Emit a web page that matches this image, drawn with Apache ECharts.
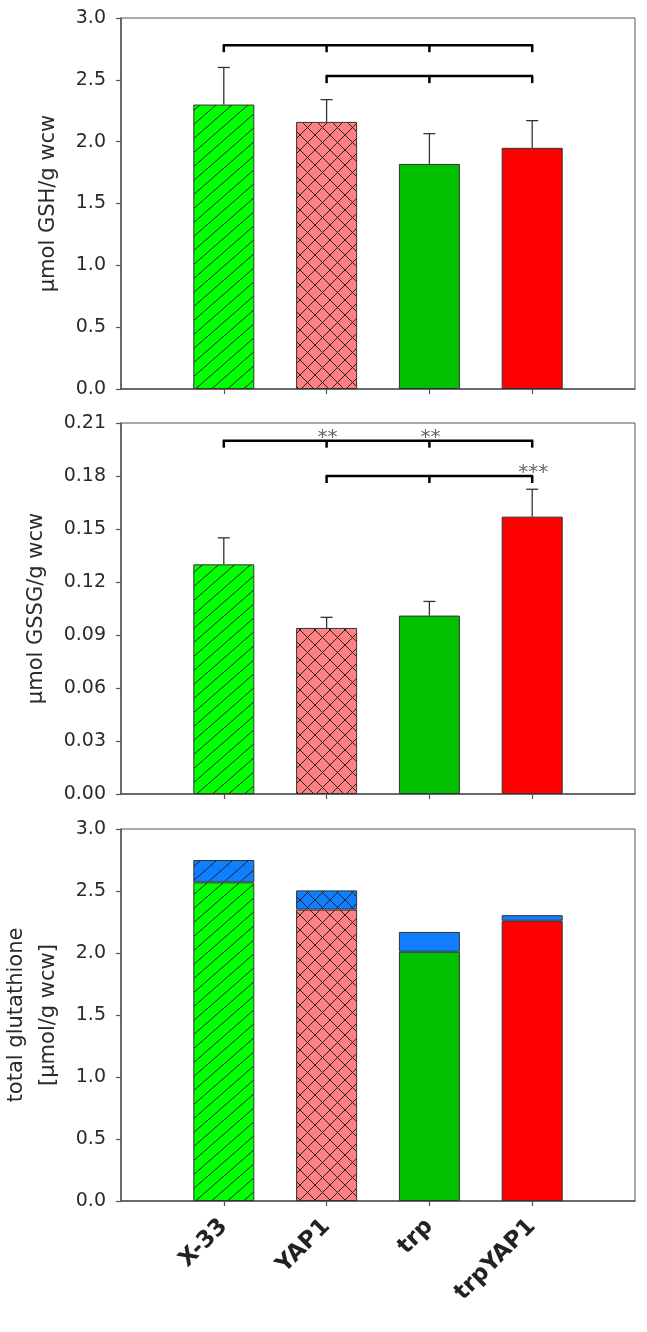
<!DOCTYPE html>
<html><head><meta charset="utf-8">
<script src="https://cdn.jsdelivr.net/npm/echarts@6/dist/echarts.min.js"></script>
<style>html,body{margin:0;padding:0;background:#fff}#c{width:647px;height:1332px}</style>
</head><body><div id="c"></div>
<script>
// ---- data ----
const categories = ['X-33', 'YAP1', 'trp', 'trpYAP1'];
const gshMean = [2.30, 2.16, 1.82, 1.95];
const gshErr = [0.30, 0.18, 0.245, 0.22];
const gssgMean = [0.130, 0.094, 0.101, 0.157];
const gssgErr = [0.015, 0.006, 0.008, 0.0155];
const totalGSH = [2.57, 2.35, 2.01, 2.26];
const totalGSSG = [0.18, 0.155, 0.16, 0.045];
// brackets: [from category (1-based), to category, y]
const gshBrackets = [[1, 4, 2.78], [2, 4, 2.53]];
const gssgBrackets = [[1, 4, 0.20], [2, 4, 0.18]];
const gssgStarPos = [[2, 0.20], [3, 0.20], [4, 0.18]];
const gssgStarText = ['**', '**', '***'];
const gshTicks = { min: 0, max: 3.0, step: 0.5 };
const gssgTicks = { min: 0, max: 0.21, step: 0.03 };
const totalTicks = { min: 0, max: 3.0, step: 0.5 };

// ---- styles ----
const fills = ['#00ff00', '#ff8080', '#00c000', '#ff0000'];
const hatches = ['/', 'x', '', ''];
const blue = '#0f7fff';
const FONT = 'DejaVu Sans';

function pattern(bg, kind) {
  if (!kind) return bg;
  const W = kind === 'x' ? 15 : 16, H = kind === 'x' ? 15 : 14;
  const c = document.createElement('canvas');
  c.width = W; c.height = H;
  const g = c.getContext('2d');
  g.fillStyle = bg; g.fillRect(0, 0, W, H);
  g.strokeStyle = '#222'; g.lineWidth = 1;
  g.beginPath();
  for (let o = -1; o <= 1; o++) {
    g.moveTo(o * W, H); g.lineTo(o * W + W, 0);
  }
  if (kind === 'x') {
    for (let o = -1; o <= 1; o++) {
      g.moveTo(o * W, 0); g.lineTo(o * W + W, H);
    }
  }
  g.stroke();
  return { image: c, repeat: 'repeat' };
}

const padded = arr => [null, ...arr, null];
const xData = ['', ...categories, ''];

const grids = [
  { left: 121, top: 18, width: 514, height: 371 },
  { left: 121, top: 423, width: 514, height: 371 },
  { left: 121, top: 829, width: 514, height: 372 }
].map(g => Object.assign(g, { show: true, borderColor: '#555', borderWidth: 1, backgroundColor: 'transparent', containLabel: false, outerBoundsMode: 'none' }));

function xAxis(i, showLabels) {
  return {
    type: 'category', gridIndex: i, data: xData, boundaryGap: false,
    axisLine: { lineStyle: { color: '#555', width: 1.5 } },
    axisTick: { show: true, length: 5, interval: (idx) => idx >= 1 && idx <= 4, lineStyle: { color: '#555', width: 1.2 } },
    axisLabel: showLabels ? {
      show: true, interval: 0, rotate: 45, margin: 22,
      fontFamily: FONT, fontWeight: 'bold', fontSize: 23, color: '#222'
    } : { show: false },
    splitLine: { show: false }
  };
}

function yAxis(i, t, dec, name, gap) {
  return {
    type: 'value', gridIndex: i, min: t.min, max: t.max, interval: t.step,
    axisLine: { show: true, lineStyle: { color: '#555', width: 1.5 } },
    axisTick: { show: true, length: 5, lineStyle: { color: '#555', width: 1.2 } },
    axisLabel: { margin: 15, fontFamily: FONT, fontSize: 19, color: '#2a2a2a', formatter: v => v.toFixed(dec) },
    splitLine: { show: false },
    name: name, nameLocation: 'middle', nameGap: gap, nameRotate: 90,
    nameTextStyle: { fontFamily: FONT, fontSize: 21, color: '#2a2a2a', lineHeight: 32 }
  };
}

function barSeries(i, values, stack) {
  return {
    type: 'bar', xAxisIndex: i, yAxisIndex: i, barWidth: 61, stack: stack,
    data: padded(values.map((v, k) => ({
      value: v,
      itemStyle: { color: pattern(fills[k], hatches[k]), borderColor: '#333', borderWidth: 1 }
    }))),
    z: 2, silent: true
  };
}

function errSeries(i, means, errs) {
  return {
    type: 'custom', xAxisIndex: i, yAxisIndex: i, z: 3, silent: true,
    data: means.map((m, k) => [k + 1, m, errs[k]]),
    encode: { x: 0, y: 1 },
    renderItem: (params, api) => {
      const x = api.value(0), m = api.value(1), e = api.value(2);
      const p0 = api.coord([x, m]), p1 = api.coord([x, m + e]);
      const st = { stroke: '#333', lineWidth: 1.3 };
      return { type: 'group', children: [
        { type: 'line', shape: { x1: p0[0], y1: p0[1], x2: p1[0], y2: p1[1] }, style: st },
        { type: 'line', shape: { x1: p1[0] - 6, y1: p1[1], x2: p1[0] + 6, y2: p1[1] }, style: st }
      ]};
    }
  };
}

function bracketSeries(i, brackets) {
  return {
    type: 'custom', xAxisIndex: i, yAxisIndex: i, z: 4, silent: true,
    data: brackets,
    encode: { x: [0, 1], y: 2 },
    renderItem: (params, api) => {
      const a = api.value(0), b = api.value(1), y = api.value(2);
      const pa = api.coord([a, y]), pb = api.coord([b, y]);
      const st = { stroke: '#000', lineWidth: 2.5 };
      const ch = [{ type: 'line', shape: { x1: pa[0] - 1, y1: pa[1], x2: pb[0] + 1, y2: pb[1] }, style: st }];
      for (let k = a; k <= b; k++) {
        const p = api.coord([k, y]);
        ch.push({ type: 'line', shape: { x1: p[0], y1: p[1], x2: p[0], y2: p[1] + 7 }, style: st });
      }
      return { type: 'group', children: ch };
    }
  };
}

function starSeries(i, pos, texts) {
  return {
    type: 'custom', xAxisIndex: i, yAxisIndex: i, z: 4, silent: true,
    data: pos,
    encode: { x: 0, y: 1 },
    renderItem: (params, api) => {
      const p = api.coord([api.value(0), api.value(1)]);
      return { type: 'text', x: p[0] + 1, y: p[1] - 3,
        style: { text: texts[params.dataIndex], fontFamily: FONT, fontSize: 20, fill: '#666',
          align: 'center', verticalAlign: 'middle' } };
    }
  };
}

const blueTop = {
  type: 'bar', xAxisIndex: 2, yAxisIndex: 2, barWidth: 61, stack: 'tot', z: 2, silent: true,
  data: padded(totalGSSG.map((v, k) => ({
    value: v,
    itemStyle: { color: pattern(blue, hatches[k]), borderColor: '#333', borderWidth: 1 }
  })))
};

const option = {
  animation: false,
  backgroundColor: '#fff',
  grid: grids,
  xAxis: [xAxis(0, false), xAxis(1, false), xAxis(2, true)],
  yAxis: [
    yAxis(0, gshTicks, 1, 'µmol GSH/g wcw', 54),
    yAxis(1, gssgTicks, 2, 'µmol GSSG/g wcw', 65),
    yAxis(2, totalTicks, 1, 'total glutathione\n[µmol/g wcw]', 54)
  ],
  series: [
    barSeries(0, gshMean),
    errSeries(0, gshMean, gshErr),
    bracketSeries(0, gshBrackets),
    barSeries(1, gssgMean),
    errSeries(1, gssgMean, gssgErr),
    bracketSeries(1, gssgBrackets),
    starSeries(1, gssgStarPos, gssgStarText),
    barSeries(2, totalGSH, 'tot'),
    blueTop
  ]
};

const chart = echarts.init(document.getElementById('c'), null, { renderer: 'canvas' });
chart.setOption(option);
</script>
</body></html>
